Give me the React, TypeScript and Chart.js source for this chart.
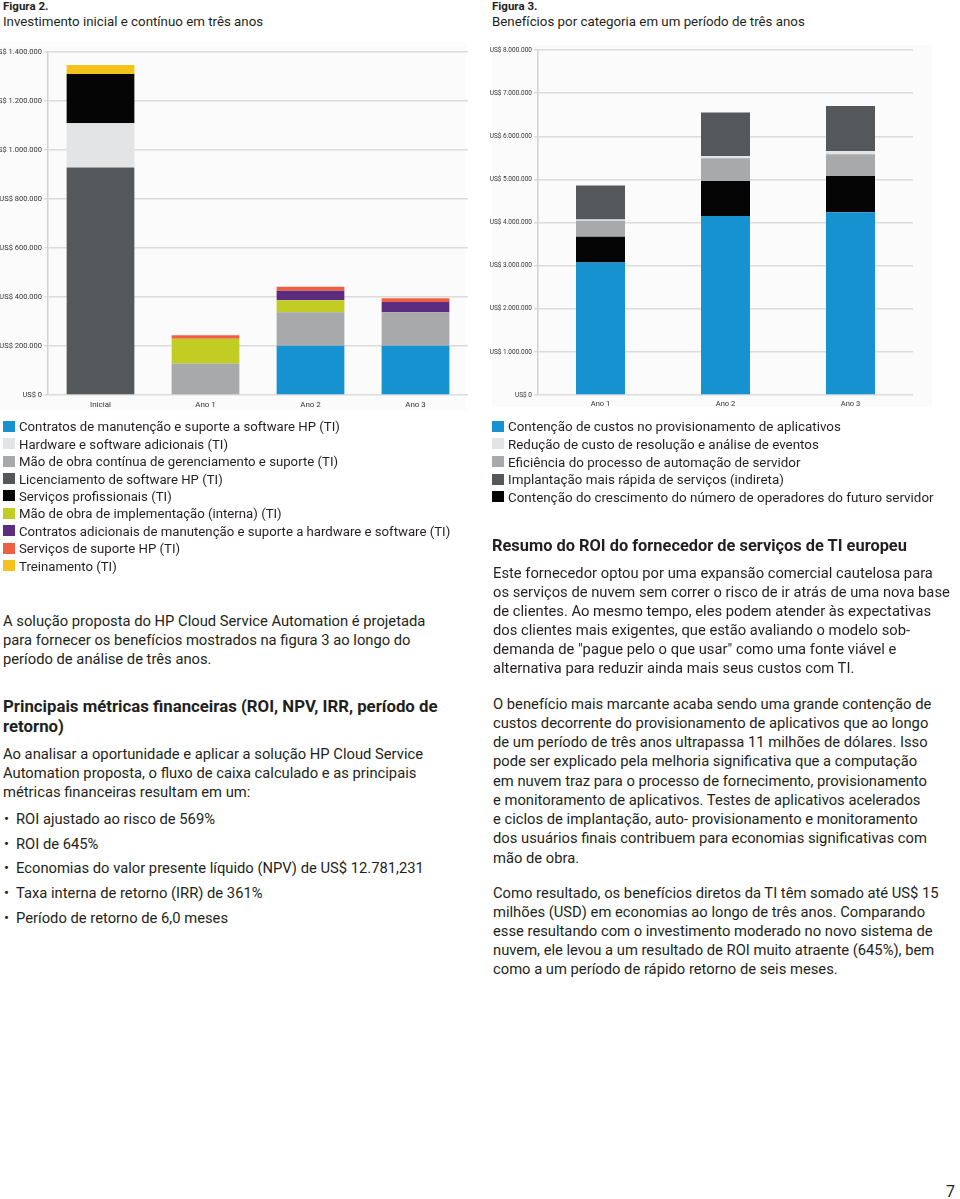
import React, { useEffect, useRef } from 'react';
import { Chart, registerables } from 'chart.js';

Chart.register(...registerables);

const FONT = 'Roboto, "Noto Sans", Arial, sans-serif';
const TEXT = '#231f20';

// ---------- Figura 2: Investimento ----------
const invCategories = ['Inicial', 'Ano 1', 'Ano 2', 'Ano 3'];
const invTickLabels = ['US$ 0', 'US$ 200.000', 'US$ 400.000', 'US$ 600.000', 'US$ 800.000', 'US$ 1.000.000', 'US$ 1.200.000', 'US$ 1.400.000'];
const invSeriesLabels = [
  'Contratos de manutenção e suporte a software HP (TI)',
  'Hardware e software adicionais (TI)',
  'Mão de obra contínua de gerenciamento e suporte (TI)',
  'Licenciamento de software HP (TI)',
  'Serviços profissionais (TI)',
  'Mão de obra de implementação (interna) (TI)',
  'Contratos adicionais de manutenção e suporte a hardware e software (TI)',
  'Serviços de suporte HP (TI)',
  'Treinamento (TI)',
];
const invColors = ['#1592cf', '#e3e4e5', '#a7a9ab', '#54585a', '#050505', '#c2cd24', '#5c2d7e', '#ee5f45', '#f3c31c'];
const invContratosHP = [0, 0, 201000, 201000];
const invHardwareAdicional = [180000, 0, 0, 0];
const invMaoObraContinua = [0, 129000, 137000, 137000];
const invLicenciamento = [929000, 0, 0, 0];
const invServicosProf = [201000, 0, 0, 0];
const invMaoObraImpl = [0, 101000, 49000, 0];
const invContratosAdic = [0, 0, 39000, 42000];
const invSuporteHP = [0, 14000, 16000, 15000];
const invTreinamento = [37000, 0, 0, 0];
const invSeries = [invContratosHP, invHardwareAdicional, invMaoObraContinua, invLicenciamento, invServicosProf, invMaoObraImpl, invContratosAdic, invSuporteHP, invTreinamento];
// bottom-to-top stacking order (indices into the legend order)
const invStackOrder = [0, 3, 2, 1, 4, 5, 6, 7, 8];

// ---------- Figura 3: Benefícios ----------
const benCategories = ['Ano 1', 'Ano 2', 'Ano 3'];
const benTickLabels = ['US$ 0', 'US$ 1.000.000', 'US$ 2.000.000', 'US$ 3.000.000', 'US$ 4.000.000', 'US$ 5.000.000', 'US$ 6.000.000', 'US$ 7.000.000', 'US$ 8.000.000'];
const benSeriesLabels = [
  'Contenção de custos no provisionamento de aplicativos',
  'Redução de custo de resolução e análise de eventos',
  'Eficiência do processo de automação de servidor',
  'Implantação mais rápida de serviços (indireta)',
  'Contenção do crescimento do número de operadores do futuro servidor',
];
const benColors = ['#1592cf', '#e3e4e5', '#a7a9ab', '#54585a', '#050505'];
const benProvisionamento = [3070000, 4150000, 4240000];
const benEventos = [30000, 50000, 80000];
const benAutomacao = [370000, 530000, 500000];
const benImplantacao = [790000, 1010000, 1040000];
const benOperadores = [600000, 810000, 840000];
const benSeries = [benProvisionamento, benEventos, benAutomacao, benImplantacao, benOperadores];
const benStackOrder = [0, 4, 2, 1, 3];

type Opts = {
  yWidth: number; xHeight: number; padTop: number; padRight: number;
  yFont: number; xFont: number; xPad: number; bar: number; max: number; step: number;
};

function makeConfig(categories: string[], labels: string[], colors: string[], series: number[][], order: number[], tickLabels: string[], o: Opts): any {
  return {
    type: 'bar',
    data: {
      labels: categories,
      datasets: order.map((i) => ({
        label: labels[i],
        data: series[i],
        backgroundColor: colors[i],
        borderWidth: 0,
        barPercentage: o.bar,
        categoryPercentage: 1,
      })),
    },
    options: {
      responsive: false,
      animation: false,
      devicePixelRatio: 1,
      layout: { padding: { left: 0, right: o.padRight, top: o.padTop, bottom: 0 } },
      plugins: { legend: { display: false }, tooltip: { enabled: false }, title: { display: false } },
      scales: {
        x: {
          stacked: true,
          grid: { display: false, drawTicks: false },
          border: { display: false },
          ticks: { color: '#333', font: { family: FONT, size: o.xFont }, padding: o.xPad },
          afterFit: (s: any) => { s.height = o.xHeight; },
        },
        y: {
          stacked: true,
          min: 0,
          max: o.max,
          ticks: {
            stepSize: o.step,
            color: '#333',
            font: { family: FONT, size: o.yFont },
            padding: 2,
            callback: (v: number) => tickLabels[Math.round(v / o.step)],
          },
          grid: { color: '#dcdcdc', lineWidth: 1.5, tickLength: 4, drawTicks: true },
          border: { color: '#d2d2d2', width: 1.5 },
          afterFit: (s: any) => { s.width = o.yWidth; },
        },
      },
    },
  };
}

function ChartCanvas({ left, top, width, height, config }: { left: number; top: number; width: number; height: number; config: any }) {
  const ref = useRef<HTMLCanvasElement>(null);
  useEffect(() => {
    const chart = new Chart(ref.current as HTMLCanvasElement, config);
    return () => chart.destroy();
  }, []);
  return <canvas ref={ref} width={width} height={height} style={{ position: 'absolute', left, top, width, height }} />;
}

function Lines({ x, baseline, size, lh, lines, bold, color }: { x: number; baseline: number; size: number; lh: number; lines: string[]; bold?: boolean; color?: string }) {
  const top = baseline - lh / 2 - 0.342 * size;
  return (
    <div style={{ position: 'absolute', left: x, top, fontSize: size, lineHeight: lh + 'px', fontWeight: bold ? 700 : 400, whiteSpace: 'nowrap', color: color || TEXT }}>
      {lines.map((l, i) => <div key={i}>{l}</div>)}
    </div>
  );
}

function Legend({ x, baseline, size, lh, labels, colors }: { x: number; baseline: number; size: number; lh: number; labels: string[]; colors: string[] }) {
  return (
    <>
      {labels.map((l, i) => (
        <React.Fragment key={i}>
          <div style={{ position: 'absolute', left: x, top: baseline + i * lh - 11, width: 12, height: 11, background: colors[i] }} />
          <Lines x={x + 16} baseline={baseline + i * lh} size={size} lh={lh} lines={[l]} />
        </React.Fragment>
      ))}
    </>
  );
}

function Bullets({ x, baseline, size, lh, items }: { x: number; baseline: number; size: number; lh: number; items: string[] }) {
  return (
    <>
      {items.map((t, i) => (
        <React.Fragment key={i}>
          <Lines x={x} baseline={baseline + i * lh} size={size} lh={lh} lines={['•']} />
          <Lines x={x + 12} baseline={baseline + i * lh} size={size} lh={lh} lines={[t]} />
        </React.Fragment>
      ))}
    </>
  );
}

const BODY = 14.75;

export default function App() {
  const invConfig = makeConfig(invCategories, invSeriesLabels, invColors, invSeries, invStackOrder, invTickLabels, {
    yWidth: 48, xHeight: 25, padTop: 12, padRight: 12, yFont: 7.5, xFont: 8, xPad: 5, bar: 0.645, max: 1400000, step: 200000,
  });
  const benConfig = makeConfig(benCategories, benSeriesLabels, benColors, benSeries, benStackOrder, benTickLabels, {
    yWidth: 58, xHeight: 25, padTop: 10, padRight: 47, yFont: 6.5, xFont: 7.5, xPad: 5, bar: 0.392, max: 8000000, step: 1000000,
  });

  return (
    <div style={{ position: 'absolute', left: 0, top: 0, width: 960, height: 1199, background: '#fff', fontFamily: FONT, overflow: 'hidden' }}>
      {/* Headers */}
      <Lines x={3} baseline={10} size={11.5} lh={14} bold lines={['Figura 2.']} />
      <Lines x={3} baseline={26.7} size={13.3} lh={16} lines={['Investimento inicial e contínuo em três anos']} />
      <Lines x={492} baseline={10} size={11.5} lh={14} bold lines={['Figura 3.']} />
      <Lines x={492} baseline={26.7} size={13.3} lh={16} lines={['Benefícios por categoria em um período de três anos']} />

      {/* Chart backgrounds */}
      <div style={{ position: 'absolute', left: 0, top: 42, width: 466, height: 368, background: '#fbfbfb' }} />
      <div style={{ position: 'absolute', left: 492, top: 45, width: 440, height: 362, background: '#fbfbfb' }} />

      <ChartCanvas left={0} top={40} width={480} height={380} config={invConfig} />
      <ChartCanvas left={480} top={40} width={480} height={380} config={benConfig} />

      {/* Legends */}
      <Legend x={3} baseline={431.7} size={13.2} lh={17.4} labels={invSeriesLabels} colors={invColors} />
      <Legend x={492} baseline={431.7} size={13.4} lh={17.65} labels={benSeriesLabels} colors={benColors} />

      {/* Left column text */}
      <Lines x={3} baseline={626.7} size={BODY} lh={18.8} lines={[
        'A solução proposta do HP Cloud Service Automation é projetada',
        'para fornecer os benefícios mostrados na figura 3 ao longo do',
        'período de análise de três anos.',
      ]} />
      <Lines x={3} baseline={712.7} size={16.8} lh={19.5} bold lines={[
        'Principais métricas financeiras (ROI, NPV, IRR, período de',
        'retorno)',
      ]} />
      <Lines x={3} baseline={759.3} size={BODY} lh={19.2} lines={[
        'Ao analisar a oportunidade e aplicar a solução HP Cloud Service',
        'Automation proposta, o fluxo de caixa calculado e as principais',
        'métricas financeiras resultam em um:',
      ]} />
      <Bullets x={4} baseline={824.3} size={BODY} lh={24.75} items={[
        'ROI ajustado ao risco de 569%',
        'ROI de 645%',
        'Economias do valor presente líquido (NPV) de US$ 12.781,231',
        'Taxa interna de retorno (IRR) de 361%',
        'Período de retorno de 6,0 meses',
      ]} />

      {/* Right column text */}
      <Lines x={492} baseline={550.7} size={16.4} lh={19} bold lines={['Resumo do ROI do fornecedor de serviços de TI europeu']} />
      <Lines x={493} baseline={578.3} size={BODY} lh={19} lines={[
        'Este fornecedor optou por uma expansão comercial cautelosa para',
        'os serviços de nuvem sem correr o risco de ir atrás de uma nova base',
        'de clientes. Ao mesmo tempo, eles podem atender às expectativas',
        'dos clientes mais exigentes, que estão avaliando o modelo sob-',
        'demanda de "pague pelo o que usar" como uma fonte viável e',
        'alternativa para reduzir ainda mais seus custos com TI.',
      ]} />
      <Lines x={493} baseline={709.3} size={BODY} lh={19.25} lines={[
        'O benefício mais marcante acaba sendo uma grande contenção de',
        'custos decorrente do provisionamento de aplicativos que ao longo',
        'de um período de três anos ultrapassa 11 milhões de dólares. Isso',
        'pode ser explicado pela melhoria significativa que a computação',
        'em nuvem traz para o processo de fornecimento, provisionamento',
        'e monitoramento de aplicativos. Testes de aplicativos acelerados',
        'e ciclos de implantação, auto- provisionamento e monitoramento',
        'dos usuários finais contribuem para economias significativas com',
        'mão de obra.',
      ]} />
      <Lines x={493} baseline={898.3} size={BODY} lh={19.2} lines={[
        'Como resultado, os benefícios diretos da TI têm somado até US$ 15',
        'milhões (USD) em economias ao longo de três anos. Comparando',
        'esse resultando com o investimento moderado no novo sistema de',
        'nuvem, ele levou a um resultado de ROI muito atraente (645%), bem',
        'como a um período de rápido retorno de seis meses.',
      ]} />

      <Lines x={946} baseline={1197} size={16} lh={18} lines={['7']} />
    </div>
  );
}
